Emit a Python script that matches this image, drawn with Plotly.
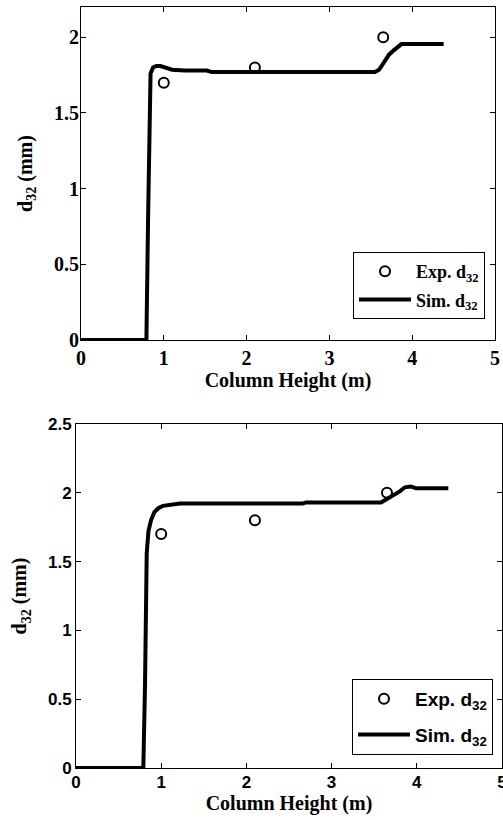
import plotly.graph_objects as go

# ---- data ----
exp_x = [1.0, 2.1, 3.65]
exp_top_y = [1.70, 1.80, 2.00]
exp_bot_y = [1.70, 1.80, 2.00]

sim_top_x = [0, 0.79, 0.81, 0.84, 0.87, 0.91, 0.96, 1.03, 1.10, 1.25, 1.52, 1.58, 3.55, 3.60, 3.66, 3.72, 3.78, 3.87, 4.38]
sim_top_y = [0, 0, 0.80, 1.76, 1.80, 1.81, 1.81, 1.798, 1.786, 1.78, 1.78, 1.77, 1.77, 1.785, 1.835, 1.885, 1.915, 1.955, 1.955]

sim_bot_x = [0, 0.79, 0.81, 0.83, 0.85, 0.88, 0.92, 0.97, 1.02, 1.10, 1.18, 1.22, 2.66, 2.70, 3.58, 3.65, 3.72, 3.80, 3.86, 3.93, 3.99, 4.05, 4.37]
sim_bot_y = [0, 0, 0.60, 1.56, 1.72, 1.80, 1.86, 1.89, 1.905, 1.91, 1.913, 1.922, 1.922, 1.93, 1.93, 1.955, 1.98, 2.01, 2.04, 2.046, 2.033, 2.033, 2.033]

x_ticks = [0, 1, 2, 3, 4, 5]
y_ticks_top = [0, 0.5, 1, 1.5, 2]
y_ticks_bot = [0, 0.5, 1, 1.5, 2, 2.5]

W, H = 503, 820
SERIF = "Liberation Serif, Times New Roman, serif"
SANS = "Liberation Sans, Arial, sans-serif"

fig = go.Figure()

# top panel
fig.add_trace(go.Scatter(x=exp_x, y=exp_top_y, mode="markers", name="Exp. d<sub>32</sub>",
                         marker=dict(symbol="circle-open", size=10, color="black", line=dict(width=2, color="black")),
                         xaxis="x", yaxis="y", legend="legend", legendgroup="a"))
fig.add_trace(go.Scatter(x=sim_top_x, y=sim_top_y, mode="lines", name="Sim. d<sub>32</sub>",
                         line=dict(color="black", width=4), xaxis="x", yaxis="y", legend="legend", legendgroup="b"))
# bottom panel
fig.add_trace(go.Scatter(x=exp_x, y=exp_bot_y, mode="markers", name="Exp. d<sub>32</sub>",
                         marker=dict(symbol="circle-open", size=10, color="black", line=dict(width=2, color="black")),
                         xaxis="x2", yaxis="y2", legend="legend2", legendgroup="c"))
fig.add_trace(go.Scatter(x=sim_bot_x, y=sim_bot_y, mode="lines", name="Sim. d<sub>32</sub>",
                         line=dict(color="black", width=4), xaxis="x2", yaxis="y2", legend="legend2", legendgroup="d"))

axis_common = dict(showgrid=False, zeroline=False, showline=True, linecolor="black", linewidth=1,
                   mirror="ticks", ticks="inside", ticklen=5, tickcolor="black", tickwidth=1,
                   automargin=False, ticklabeloverflow="allow")

def px_x(p):
    return p / W

def px_y(p):
    return 1 - p / H

def f(fam, size):
    return dict(family=fam, size=size, color="black", weight="bold")

fig.update_layout(
    width=W, height=H,
    margin=dict(l=0, r=0, t=0, b=0, pad=0, autoexpand=False),
    paper_bgcolor="white", plot_bgcolor="white",
    showlegend=True,
    xaxis=dict(**axis_common, domain=[px_x(81), px_x(495)], range=[0, 5], tickvals=x_ticks,
               tickfont=f(SERIF, 20), anchor="y",
               title=dict(text="Column Height (m)", font=f(SERIF, 20), standoff=0)),
    yaxis=dict(**axis_common, domain=[px_y(340), px_y(7)], range=[0, 2.2], tickvals=y_ticks_top,
               tickfont=f(SERIF, 20), anchor="x", ticklabelstandoff=-3,
               title=dict(text="d<sub>32</sub> (mm)", font=f(SERIF, 20), standoff=16)),
    xaxis2=dict(**axis_common, domain=[px_x(76), px_x(502)], range=[0, 5], tickvals=x_ticks,
                tickfont=f(SANS, 17), anchor="y2", ticklabelstandoff=-1,
                title=dict(text="Column Height (m)", font=f(SERIF, 20), standoff=0)),
    yaxis2=dict(**axis_common, domain=[px_y(768), px_y(424)], range=[0, 2.5], tickvals=y_ticks_bot,
                tickfont=f(SANS, 17), anchor="x2",
                title=dict(text="d<sub>32</sub> (mm)", font=f(SERIF, 20), standoff=15)),
    legend=dict(x=px_x(353), y=px_y(252), xanchor="left", yanchor="top", bgcolor="white",
                bordercolor="black", borderwidth=1, itemwidth=52, traceorder="grouped", tracegroupgap=2,
                font=f(SERIF, 18)),
    legend2=dict(x=px_x(352), y=px_y(679), xanchor="left", yanchor="top", bgcolor="white",
                 bordercolor="black", borderwidth=1, itemwidth=52, traceorder="grouped", tracegroupgap=8,
                 font=f(SANS, 19)),
)

fig.write_html("out.html", config={"displayModeBar": False},
               post_script="document.body.style.margin='0';")
